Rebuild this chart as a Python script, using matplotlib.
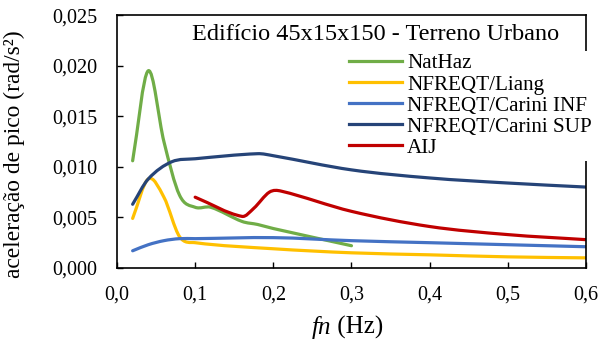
import matplotlib.pyplot as plt
from matplotlib.path import Path
from matplotlib.patches import PathPatch
import numpy as np

plt.rcParams['font.family'] = ['Liberation Serif', 'DejaVu Serif']

# valores
fn_nathaz = [0.02, 0.04, 0.06, 0.08, 0.10, 0.12, 0.16, 0.18, 0.20, 0.30]
ac_nathaz = [0.0106, 0.0195, 0.0125, 0.0072, 0.0060, 0.0060, 0.0046, 0.0043, 0.0039, 0.0022]

fn_liang = [0.02, 0.04, 0.06, 0.08, 0.10, 0.20, 0.30, 0.40, 0.50, 0.60]
ac_liang = [0.0049, 0.0088, 0.0070, 0.0031, 0.0025, 0.0019, 0.0015, 0.0013, 0.0011, 0.0010]

fn_cinf = [0.02, 0.04, 0.06, 0.08, 0.10, 0.20, 0.30, 0.40, 0.50, 0.60]
ac_cinf = [0.0017, 0.0023, 0.0027, 0.0029, 0.0029, 0.0030, 0.0027, 0.0025, 0.0023, 0.0021]

fn_csup = [0.02, 0.04, 0.07, 0.10, 0.18, 0.20, 0.30, 0.40, 0.50, 0.60]
ac_csup = [0.0063, 0.0088, 0.0105, 0.0108, 0.0113, 0.0111, 0.0097, 0.0089, 0.0084, 0.0080]

fn_aij = [0.10, 0.16, 0.175, 0.195, 0.21, 0.30, 0.40, 0.50, 0.60]
ac_aij = [0.0070, 0.0051, 0.0059, 0.0075, 0.0076, 0.0056, 0.0041, 0.0033, 0.0028]

series = [
    ('NatHaz', fn_nathaz, ac_nathaz, '#70AD47'),
    ('NFREQT/Liang', fn_liang, ac_liang, '#FFC000'),
    ('NFREQT/Carini INF', fn_cinf, ac_cinf, '#4472C4'),
    ('NFREQT/Carini SUP', fn_csup, ac_csup, '#264478'),
    ('AIJ', fn_aij, ac_aij, '#C00000'),
]


def smooth_path(x, y):
    # linha suavizada (bezier cubica, tangentes por diferencas)
    x = np.asarray(x, float)
    y = np.asarray(y, float)
    n = len(x)
    m = np.zeros(n)
    m[0] = (y[1] - y[0]) / (x[1] - x[0])
    m[-1] = (y[-1] - y[-2]) / (x[-1] - x[-2])
    for i in range(1, n - 1):
        m[i] = (y[i + 1] - y[i - 1]) / (x[i + 1] - x[i - 1])
    verts = [(x[0], y[0])]
    codes = [Path.MOVETO]
    for i in range(n - 1):
        h = x[i + 1] - x[i]
        verts += [(x[i] + h / 3, y[i] + m[i] * h / 3),
                  (x[i + 1] - h / 3, y[i + 1] - m[i + 1] * h / 3),
                  (x[i + 1], y[i + 1])]
        codes += [Path.CURVE4] * 3
    return Path(verts, codes)


fig = plt.figure(figsize=(6.11, 3.44), dpi=100)
ax = fig.add_axes([0.1915, 0.221, 0.7675, 0.735])

for name, x, y, c in series:
    patch = PathPatch(smooth_path(x, y), fill=False, edgecolor=c, lw=2.3,
                      capstyle='round', joinstyle='round')
    ax.add_patch(patch)
    ax.plot([], [], color=c, lw=2.3, label=name)

xt = np.arange(0, 0.61, 0.1)
yt = np.arange(0, 0.0251, 0.005)
ax.set_xlim(0, 0.6)
ax.set_ylim(0, 0.025)
ax.set_xticks(xt)
ax.set_yticks(yt)
ax.set_xticklabels([('%.1f' % v).replace('.', ',') for v in xt])
ax.set_yticklabels([('%.3f' % v).replace('.', ',') for v in yt])
ax.tick_params(direction='in', length=4, width=1, labelsize=14.5, colors='black')
ax.tick_params(axis='y', pad=14)
ax.tick_params(axis='x', pad=13)
for s in ax.spines.values():
    s.set_linewidth(1.2)

fig.text(0.542, 0.03, 'fn', fontsize=18, style='italic', ha='right', va='baseline')
fig.text(0.542, 0.03, ' (Hz)', fontsize=18, ha='left', va='baseline')
ax.set_ylabel('aceleração de pico (rad/s²)', fontsize=16.9)
ax.yaxis.set_label_coords(-0.196, 0.45)

ax.text(0.552, 0.965, 'Edifício 45x15x150 - Terreno Urbano', transform=ax.transAxes,
        ha='center', va='top', fontsize=17.5)

leg = ax.legend(loc='upper left', bbox_to_anchor=(0.488, 0.86), fontsize=15.2,
                frameon=True, fancybox=False, edgecolor='none', framealpha=1,
                handlelength=2.5, handletextpad=0.25, labelspacing=0.06,
                borderpad=0.15, borderaxespad=0)
leg.set_zorder(5)

fig.savefig('out.png', dpi=100)
